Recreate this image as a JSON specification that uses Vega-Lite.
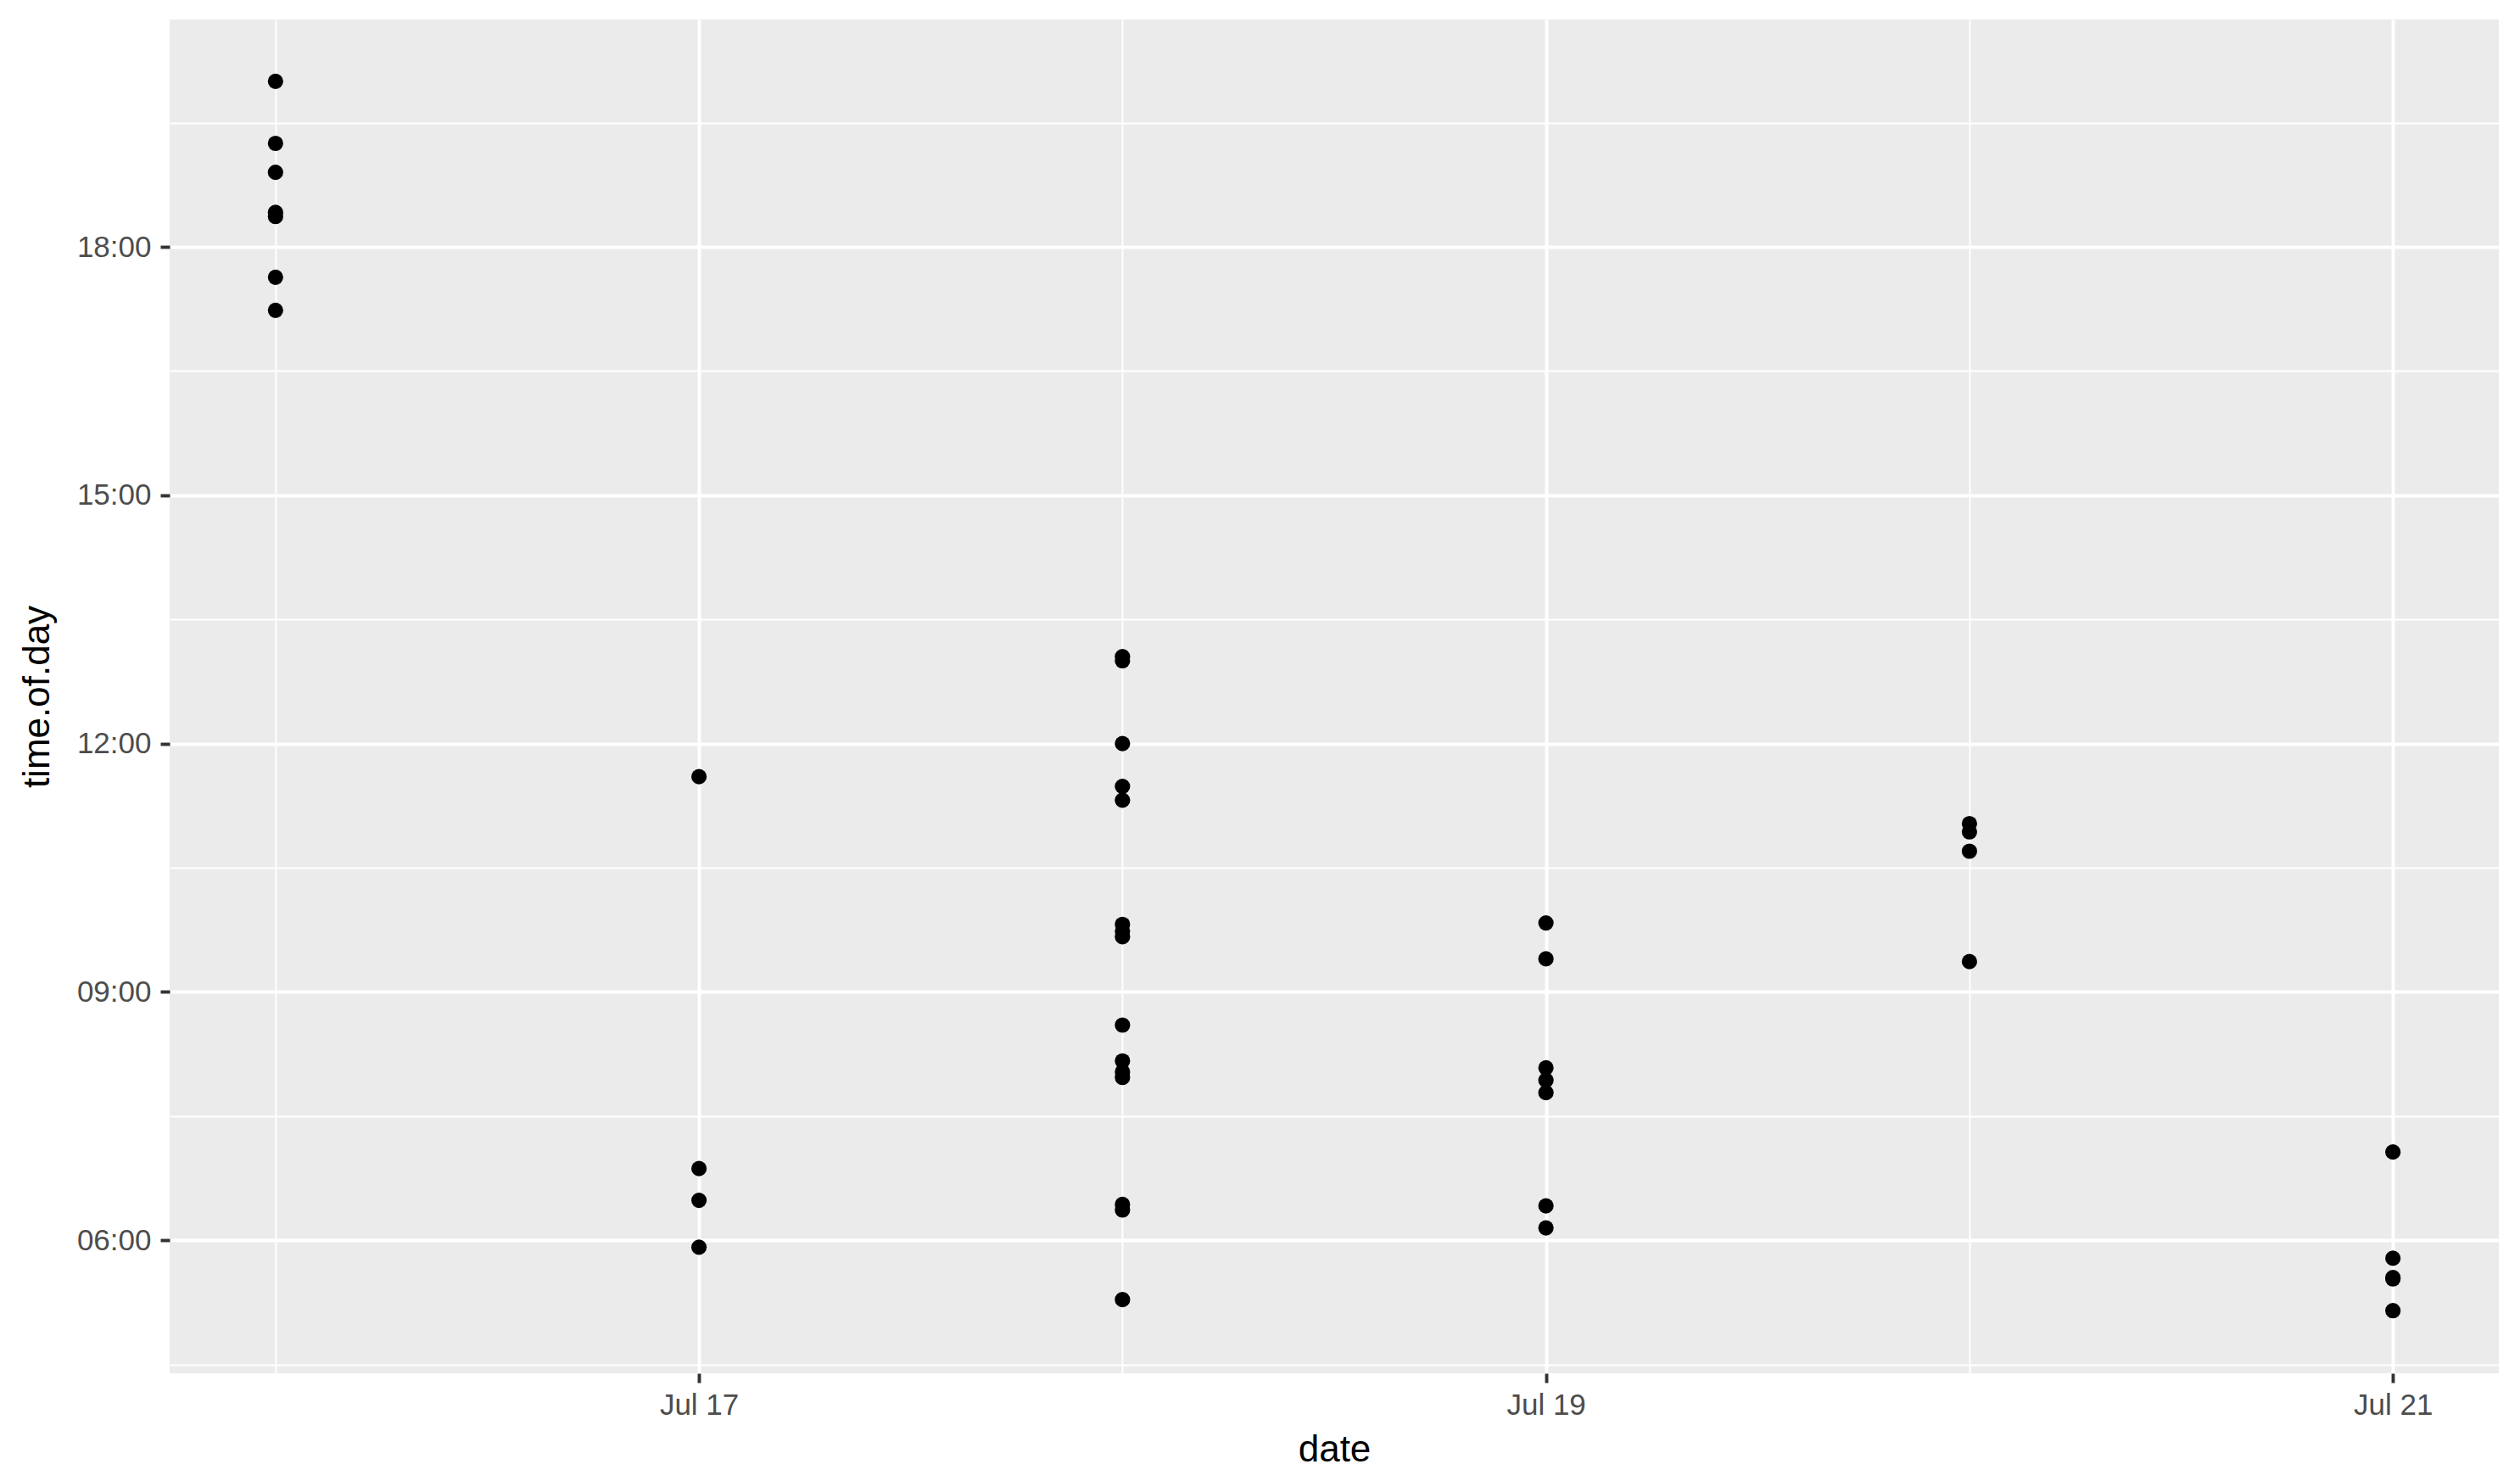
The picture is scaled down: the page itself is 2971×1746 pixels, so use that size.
{
  "$schema": "https://vega.github.io/schema/vega-lite/v6.json",
  "width": 2746,
  "height": 1596,
  "autosize": {"type": "none"},
  "padding": {"left": 200, "top": 23, "right": 25, "bottom": 127},
  "background": "white",
  "config": {
    "view": {"fill": "#EBEBEB", "stroke": null},
    "font": "Liberation Sans"
  },
  "data": {
    "values": [
      {"date": "2016-07-16T00:00:00", "time": "1970-01-01T20:00:00"},
      {"date": "2016-07-16T00:00:00", "time": "1970-01-01T19:15:00"},
      {"date": "2016-07-16T00:00:00", "time": "1970-01-01T18:54:00"},
      {"date": "2016-07-16T00:00:00", "time": "1970-01-01T18:25:00"},
      {"date": "2016-07-16T00:00:00", "time": "1970-01-01T18:22:00"},
      {"date": "2016-07-16T00:00:00", "time": "1970-01-01T17:38:00"},
      {"date": "2016-07-16T00:00:00", "time": "1970-01-01T17:14:00"},
      {"date": "2016-07-17T00:00:00", "time": "1970-01-01T11:36:00"},
      {"date": "2016-07-17T00:00:00", "time": "1970-01-01T06:52:00"},
      {"date": "2016-07-17T00:00:00", "time": "1970-01-01T06:29:00"},
      {"date": "2016-07-17T00:00:00", "time": "1970-01-01T05:55:00"},
      {"date": "2016-07-18T00:00:00", "time": "1970-01-01T13:03:00"},
      {"date": "2016-07-18T00:00:00", "time": "1970-01-01T13:00:00"},
      {"date": "2016-07-18T00:00:00", "time": "1970-01-01T12:00:00"},
      {"date": "2016-07-18T00:00:00", "time": "1970-01-01T11:29:00"},
      {"date": "2016-07-18T00:00:00", "time": "1970-01-01T11:19:00"},
      {"date": "2016-07-18T00:00:00", "time": "1970-01-01T09:49:00"},
      {"date": "2016-07-18T00:00:00", "time": "1970-01-01T09:44:00"},
      {"date": "2016-07-18T00:00:00", "time": "1970-01-01T09:40:00"},
      {"date": "2016-07-18T00:00:00", "time": "1970-01-01T08:36:00"},
      {"date": "2016-07-18T00:00:00", "time": "1970-01-01T08:10:00"},
      {"date": "2016-07-18T00:00:00", "time": "1970-01-01T08:02:00"},
      {"date": "2016-07-18T00:00:00", "time": "1970-01-01T07:58:00"},
      {"date": "2016-07-18T00:00:00", "time": "1970-01-01T06:26:00"},
      {"date": "2016-07-18T00:00:00", "time": "1970-01-01T06:22:00"},
      {"date": "2016-07-18T00:00:00", "time": "1970-01-01T05:17:00"},
      {"date": "2016-07-19T00:00:00", "time": "1970-01-01T09:50:00"},
      {"date": "2016-07-19T00:00:00", "time": "1970-01-01T09:24:00"},
      {"date": "2016-07-19T00:00:00", "time": "1970-01-01T08:05:00"},
      {"date": "2016-07-19T00:00:00", "time": "1970-01-01T07:56:00"},
      {"date": "2016-07-19T00:00:00", "time": "1970-01-01T07:47:00"},
      {"date": "2016-07-19T00:00:00", "time": "1970-01-01T06:25:00"},
      {"date": "2016-07-19T00:00:00", "time": "1970-01-01T06:09:00"},
      {"date": "2016-07-20T00:00:00", "time": "1970-01-01T11:02:00"},
      {"date": "2016-07-20T00:00:00", "time": "1970-01-01T10:56:00"},
      {"date": "2016-07-20T00:00:00", "time": "1970-01-01T10:42:00"},
      {"date": "2016-07-20T00:00:00", "time": "1970-01-01T09:22:00"},
      {"date": "2016-07-21T00:00:00", "time": "1970-01-01T07:04:00"},
      {"date": "2016-07-21T00:00:00", "time": "1970-01-01T05:47:00"},
      {"date": "2016-07-21T00:00:00", "time": "1970-01-01T05:33:00"},
      {"date": "2016-07-21T00:00:00", "time": "1970-01-01T05:32:00"},
      {"date": "2016-07-21T00:00:00", "time": "1970-01-01T05:09:00"}
    ]
  },
  "mark": {"type": "point", "shape": "circle", "filled": true, "color": "black", "opacity": 1, "size": 330},
  "encoding": {
    "x": {
      "field": "date",
      "type": "temporal",
      "title": "date",
      "scale": {
        "nice": false,
        "domain": [
          {"year": 2016, "month": 7, "date": 15, "hours": 18, "minutes": 0},
          {"year": 2016, "month": 7, "date": 21, "hours": 6, "minutes": 0}
        ]
      },
      "axis": {
        "values": [
          {"year": 2016, "month": 7, "date": 16},
          {"year": 2016, "month": 7, "date": 17},
          {"year": 2016, "month": 7, "date": 18},
          {"year": 2016, "month": 7, "date": 19},
          {"year": 2016, "month": 7, "date": 20},
          {"year": 2016, "month": 7, "date": 21}
        ],
        "labelExpr": "date(datum.value) % 2 == 1 ? timeFormat(datum.value, '%b %d') : ''",
        "domain": false,
        "grid": true,
        "gridColor": "white",
        "gridOpacity": 1,
        "gridWidth": {"condition": {"test": "date(datum.value) % 2 == 1", "value": 3.9}, "value": 1.95},
        "ticks": true,
        "tickColor": "#333333",
        "tickWidth": 3.9,
        "tickSize": 11,
        "tickOpacity": {"condition": {"test": "date(datum.value) % 2 == 1", "value": 1}, "value": 0},
        "labelFont": "Liberation Sans",
        "labelFontSize": 35,
        "labelColor": "#4D4D4D",
        "labelPadding": 9,
        "labelFlush": false,
        "labelOverlap": false,
        "titleFont": "Liberation Sans",
        "titleFontSize": 44,
        "titleFontWeight": "normal",
        "titleColor": "black",
        "titlePadding": 13
      }
    },
    "y": {
      "field": "time",
      "type": "temporal",
      "title": "time.of.day",
      "scale": {
        "nice": false,
        "domain": [
          {"year": 1970, "month": 1, "date": 1, "hours": 4, "minutes": 23, "seconds": 38},
          {"year": 1970, "month": 1, "date": 1, "hours": 20, "minutes": 44, "seconds": 46}
        ]
      },
      "axis": {
        "values": [
          {"year": 1970, "month": 1, "date": 1, "hours": 4, "minutes": 30},
          {"year": 1970, "month": 1, "date": 1, "hours": 6, "minutes": 0},
          {"year": 1970, "month": 1, "date": 1, "hours": 7, "minutes": 30},
          {"year": 1970, "month": 1, "date": 1, "hours": 9, "minutes": 0},
          {"year": 1970, "month": 1, "date": 1, "hours": 10, "minutes": 30},
          {"year": 1970, "month": 1, "date": 1, "hours": 12, "minutes": 0},
          {"year": 1970, "month": 1, "date": 1, "hours": 13, "minutes": 30},
          {"year": 1970, "month": 1, "date": 1, "hours": 15, "minutes": 0},
          {"year": 1970, "month": 1, "date": 1, "hours": 16, "minutes": 30},
          {"year": 1970, "month": 1, "date": 1, "hours": 18, "minutes": 0},
          {"year": 1970, "month": 1, "date": 1, "hours": 19, "minutes": 30}
        ],
        "labelExpr": "minutes(datum.value) == 0 && hours(datum.value) % 3 == 0 ? timeFormat(datum.value, '%H:%M') : ''",
        "domain": false,
        "grid": true,
        "gridColor": "white",
        "gridOpacity": 1,
        "gridWidth": {"condition": {"test": "minutes(datum.value) == 0", "value": 3.9}, "value": 1.95},
        "ticks": true,
        "tickColor": "#333333",
        "tickWidth": 3.9,
        "tickSize": 11,
        "tickOpacity": {"condition": {"test": "minutes(datum.value) == 0", "value": 1}, "value": 0},
        "labelFont": "Liberation Sans",
        "labelFontSize": 35,
        "labelColor": "#4D4D4D",
        "labelPadding": 11,
        "labelFlush": false,
        "labelOverlap": false,
        "titleFont": "Liberation Sans",
        "titleFontSize": 44,
        "titleFontWeight": "normal",
        "titleColor": "black",
        "titlePadding": 24
      }
    }
  }
}
